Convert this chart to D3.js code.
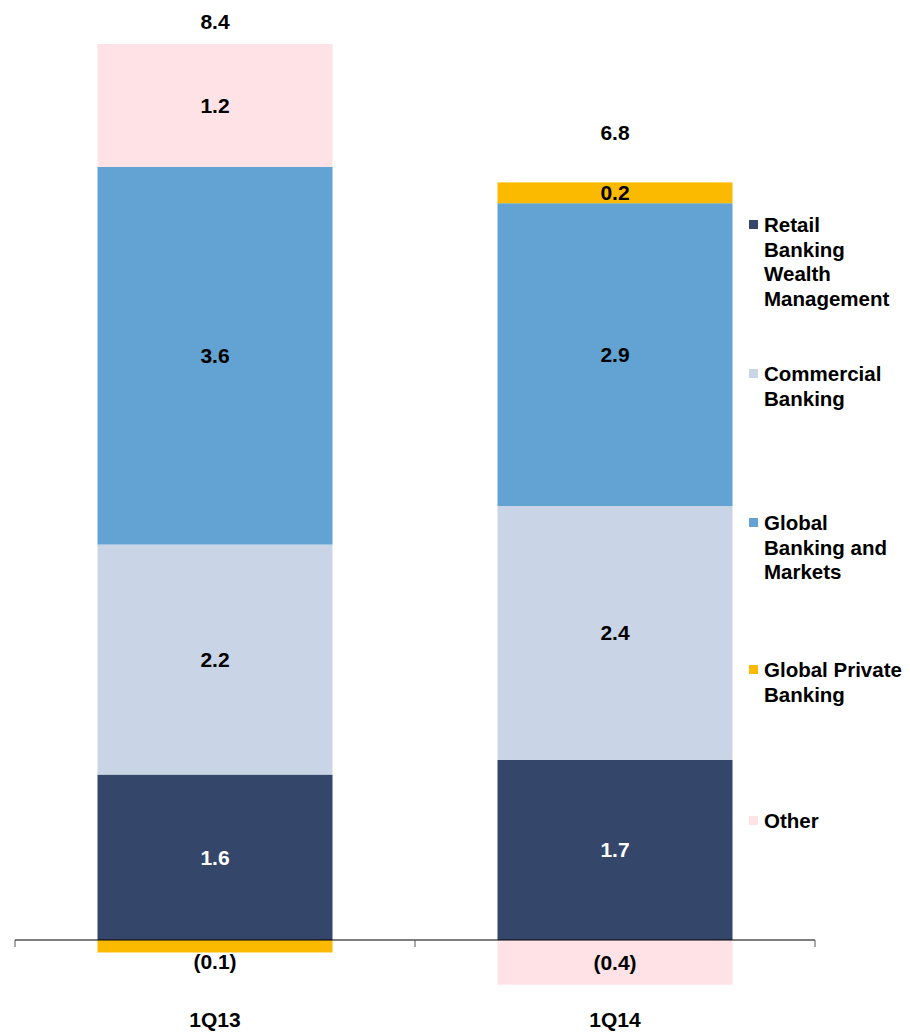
<!DOCTYPE html>
<html>
<head>
<meta charset="utf-8">
<script src="https://cdn.jsdelivr.net/npm/d3@7"></script>
<style>
    body { margin: 0; background: #fff; }
    svg text { font-family: "Liberation Sans", Arial, sans-serif; font-weight: bold; }
</style>
</head>
<body>
<div id="chart"></div>
<script>
// data
const quarters = ["1Q13", "1Q14"];
const segments = ["Retail Banking Wealth Management", "Commercial Banking", "Global Banking and Markets", "Global Private Banking", "Other"];
const retail = [1.59, 1.73];
const commercial = [2.21, 2.44];
const gbm = [3.63, 2.91];
const privateBanking = [-0.12, 0.2];
const other = [1.18, -0.43];
const totals = ["8.4", "6.8"];

const legendLines = [
    ["Retail", "Banking", "Wealth", "Management"],
    ["Commercial", "Banking"],
    ["Global", "Banking and", "Markets"],
    ["Global Private", "Banking"],
    ["Other"]
];
const colors = ["#34476b", "#c9d4e6", "#62a3d3", "#fbba00", "#fee2e6"];

const W = 910, H = 1032;
const svg = d3.select("#chart").append("svg")
    .attr("width", W)
    .attr("height", H);

const series = [retail, commercial, gbm, privateBanking, other];

const x = d3.scaleBand()
    .domain(quarters)
    .range([15, 815])
    .padding(0);
const barW = x.bandwidth() * 0.5875;

const y = d3.scaleLinear()
    .domain([0, 8.61])
    .range([940, 44]);

// stack positives up, negatives down
let rows = [];
quarters.forEach((q, qi) => {
    let pos = 0, neg = 0;
    series.forEach((s, si) => {
        const v = s[qi];
        let y0, y1;
        if (v >= 0) { y0 = pos; y1 = pos + v; pos = y1; }
        else { y0 = neg + v; y1 = neg; neg = y0; }
        rows.push({q, si, v, y0, y1});
    });
});

const fmt = d3.format(".1f");
const label = v => v < 0 ? "(" + fmt(-v) + ")" : fmt(v);

svg.append("g")
    .selectAll("rect")
    .data(rows)
    .enter().append("rect")
    .attr("x", d => x(d.q) + (x.bandwidth() - barW) / 2)
    .attr("width", barW)
    .attr("y", d => y(d.y1))
    .attr("height", d => y(d.y0) - y(d.y1))
    .attr("fill", d => colors[d.si]);

// value labels
svg.append("g")
    .selectAll("text")
    .data(rows)
    .enter().append("text")
    .attr("x", d => x(d.q) + x.bandwidth() / 2)
    .attr("y", d => {
        if (d.v < 0 && Math.abs(y(d.y0) - y(d.y1)) < 25) return y(d.y0) + 9;
        return (y(d.y0) + y(d.y1)) / 2;
    })
    .attr("dy", "0.35em")
    .attr("text-anchor", "middle")
    .attr("font-size", 21)
    .attr("fill", d => d.si === 0 ? "#fff" : "#000")
    .text(d => label(d.v));

// totals (pushed higher when the top slice is too thin to hold its label)
svg.append("g")
    .selectAll("text")
    .data(quarters)
    .enter().append("text")
    .attr("x", d => x(d) + x.bandwidth() / 2)
    .attr("y", (d, i) => {
        const top = d3.sum(series, s => Math.max(0, s[i]));
        const last = series.map(s => s[i]).filter(v => v > 0).pop();
        return y(top) - (last < 0.3 ? 50 : 22);
    })
    .attr("dy", "0.35em")
    .attr("text-anchor", "middle")
    .attr("font-size", 21)
    .text((d, i) => totals[i]);

// axis
const axis = svg.append("g")
    .attr("transform", "translate(0,940)")
    .call(d3.axisBottom(x).tickSize(0).tickFormat(""));
axis.select(".domain").remove();
axis.append("line")
    .attr("x1", 15).attr("x2", 815)
    .attr("stroke", "#000").attr("stroke-width", 1.2);
axis.selectAll(".edge")
    .data([15, 415, 815])
    .enter().append("line")
    .attr("x1", d => d).attr("x2", d => d)
    .attr("y1", 0).attr("y2", 7)
    .attr("stroke", "#555");

svg.append("g")
    .selectAll("text")
    .data(quarters)
    .enter().append("text")
    .attr("x", d => x(d) + x.bandwidth() / 2)
    .attr("y", 1027)
    .attr("text-anchor", "middle")
    .attr("font-size", 21)
    .text(d => d);

// legend
const legendTop = [225, 374, 523, 670, 821];
const legend = svg.append("g");
legendLines.forEach((lines, i) => {
    const g = legend.append("g");
    g.append("rect")
        .attr("x", 749).attr("y", legendTop[i] - 5)
        .attr("width", 9).attr("height", 9)
        .attr("fill", colors[i]);
    g.append("text")
        .attr("x", 764)
        .attr("y", legendTop[i])
        .attr("font-size", 20.5)
        .selectAll("tspan")
        .data(lines)
        .enter().append("tspan")
        .attr("x", 764)
        .attr("dy", (d, j) => j === 0 ? "0.35em" : "24.5")
        .text(d => d);
});
</script>
</body>
</html>
